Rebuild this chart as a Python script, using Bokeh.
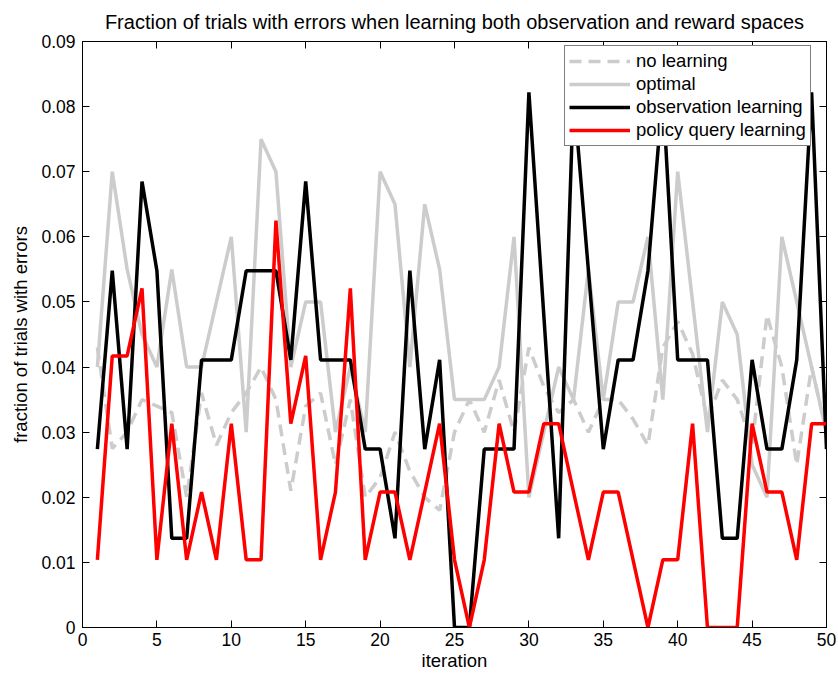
from bokeh.plotting import figure
from bokeh.models import FixedTicker, LinearAxis, Range1d, CustomJSTickFormatter
from bokeh.embed import file_html
from bokeh.resources import INLINE

# iteration index shared by all series
iterations = list(range(1, 51))

no_learning = [0.043, 0.0275, 0.030, 0.035, 0.034, 0.033, 0.020, 0.036, 0.028, 0.033,
               0.036, 0.040, 0.035, 0.021, 0.034, 0.036, 0.025, 0.035, 0.020, 0.023,
               0.030, 0.024, 0.020, 0.018, 0.030, 0.035, 0.030, 0.038, 0.030, 0.043,
               0.037, 0.033, 0.035, 0.030, 0.035, 0.035, 0.032, 0.028, 0.043, 0.047,
               0.042, 0.032, 0.038, 0.035, 0.028, 0.048, 0.040, 0.025, 0.040, 0.030]

optimal = [0.040, 0.070, 0.055, 0.045, 0.040, 0.055, 0.040, 0.040, 0.050, 0.060,
           0.030, 0.075, 0.070, 0.040, 0.050, 0.050, 0.030, 0.040, 0.030, 0.070,
           0.065, 0.040, 0.065, 0.055, 0.035, 0.035, 0.035, 0.040, 0.060, 0.020,
           0.030, 0.040, 0.035, 0.055, 0.035, 0.050, 0.050, 0.060, 0.035, 0.070,
           0.050, 0.030, 0.050, 0.045, 0.025, 0.020, 0.060, 0.050, 0.040, 0.030]

observation_learning = [0.0274, 0.0548, 0.0274, 0.0685, 0.0548, 0.0137, 0.0137, 0.0411, 0.0411, 0.0411,
                        0.0548, 0.0548, 0.0548, 0.0411, 0.0685, 0.0411, 0.0411, 0.0411, 0.0274, 0.0274,
                        0.0137, 0.0548, 0.0274, 0.0411, 0.0, 0.0, 0.0274, 0.0274, 0.0274, 0.0822,
                        0.0480, 0.0137, 0.0822, 0.0548, 0.0274, 0.0411, 0.0411, 0.0548, 0.0822, 0.0411,
                        0.0411, 0.0411, 0.0137, 0.0137, 0.0411, 0.0274, 0.0274, 0.0411, 0.0822, 0.0274]

policy_query_learning = [0.0104, 0.0417, 0.0417, 0.0521, 0.0104, 0.0313, 0.0104, 0.0208, 0.0104, 0.0313,
                         0.0104, 0.0104, 0.0625, 0.0313, 0.0417, 0.0104, 0.0208, 0.0521, 0.0104, 0.0208,
                         0.0208, 0.0104, 0.0208, 0.0313, 0.0104, 0.0, 0.0104, 0.0313, 0.0208, 0.0208,
                         0.0313, 0.0313, 0.0208, 0.0104, 0.0208, 0.0208, 0.0104, 0.0, 0.0104, 0.0104,
                         0.0313, 0.0, 0.0, 0.0, 0.0313, 0.0208, 0.0208, 0.0104, 0.0313, 0.0313]

x_ticks = [0, 5, 10, 15, 20, 25, 30, 35, 40, 45, 50]
y_ticks = [0, 0.01, 0.02, 0.03, 0.04, 0.05, 0.06, 0.07, 0.08, 0.09]
y_tick_labels = ["0", "0.01", "0.02", "0.03", "0.04", "0.05", "0.06", "0.07", "0.08", "0.09"]

FONT = "Liberation Sans"
GRAY = "#cccccc"
LW = 3.5

p = figure(width=838, height=676, output_backend="svg", toolbar_location=None,
           x_range=Range1d(0, 50), y_range=Range1d(0, 0.09),
           min_border_left=82, min_border_right=12, min_border_top=40, min_border_bottom=49,
           title="Fraction of trials with errors when learning both observation and reward spaces")

p.title.text_font = FONT
p.title.text_font_size = "20px"
p.title.text_font_style = "normal"
p.title.text_color = "black"
p.title.align = "center"
p.title.standoff = 17

p.background_fill_color = "white"
p.border_fill_color = "white"
p.outline_line_color = "black"
p.xgrid.visible = False
p.ygrid.visible = False

p.line(iterations, no_learning, color=GRAY, line_width=LW, line_dash="12 7", legend_label="no learning")
p.line(iterations, optimal, color=GRAY, line_width=LW, legend_label="optimal")
p.line(iterations, observation_learning, color="black", line_width=LW, legend_label="observation learning")
p.line(iterations, policy_query_learning, color="#ff0000", line_width=LW, legend_label="policy query learning")

y_overrides = {t: s for t, s in zip(y_ticks, y_tick_labels)}

def style_axis(ax):
    ax.axis_line_color = "black"
    ax.major_tick_line_color = "black"
    ax.major_tick_in = 7
    ax.major_tick_out = 0
    ax.minor_tick_line_color = None
    ax.major_label_text_font = FONT
    ax.major_label_text_font_size = "17.5px"
    ax.major_label_text_color = "black"
    ax.axis_label_text_font = FONT
    ax.axis_label_text_font_size = "18.5px"
    ax.axis_label_text_font_style = "normal"
    ax.axis_label_text_color = "black"

xa = p.xaxis[0]
xa.ticker = FixedTicker(ticks=x_ticks)
xa.axis_label = "iteration"
style_axis(xa)
xa.major_label_standoff = 5
xa.axis_label_standoff = 1

ya = p.yaxis[0]
ya.ticker = FixedTicker(ticks=y_ticks)
ya.major_label_overrides = y_overrides
ya.axis_label = "fraction of trials with errors"
style_axis(ya)
ya.major_label_standoff = 7
ya.axis_label_standoff = 7

# tick marks on the opposite edges of the box
blank = CustomJSTickFormatter(code="return ''")
top = LinearAxis(ticker=FixedTicker(ticks=x_ticks), formatter=blank)
right = LinearAxis(ticker=FixedTicker(ticks=y_ticks), formatter=blank)
for ax in (top, right):
    style_axis(ax)
    ax.major_label_standoff = 0
    ax.major_label_text_font_size = "1px"
p.add_layout(top, "above")
p.add_layout(right, "right")

lg = p.legend[0]
lg.location = (482, 481)
lg.label_text_font = FONT
lg.label_text_font_size = "18.5px"
lg.label_text_color = "black"
lg.glyph_width = 61
lg.glyph_height = 22
lg.label_height = 22
lg.label_standoff = 6
lg.spacing = 1
lg.padding = 4
lg.margin = 0
lg.border_line_color = "black"
lg.border_line_width = 1
lg.background_fill_alpha = 1.0

open("out.html", "w").write(file_html(p, INLINE))
